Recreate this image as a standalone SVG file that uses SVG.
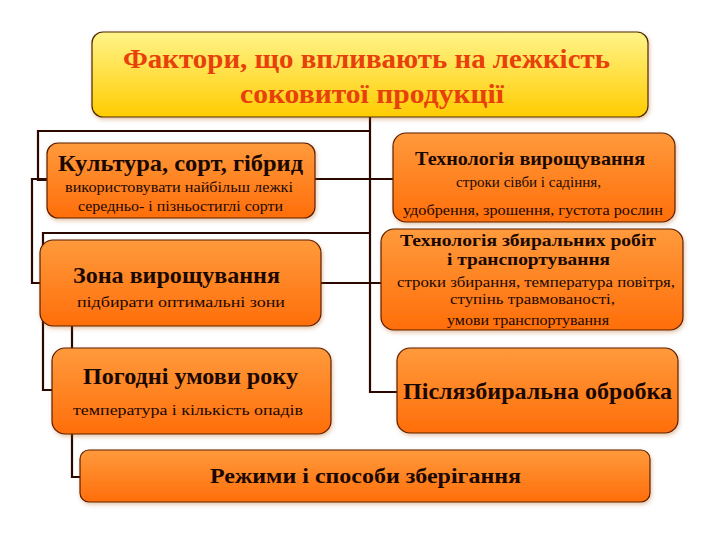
<svg xmlns="http://www.w3.org/2000/svg" width="720" height="540" viewBox="0 0 720 540">
<defs>
<linearGradient id="gy" x1="0" y1="0" x2="0" y2="1">
<stop offset="0" stop-color="#fff48a"/>
<stop offset="1" stop-color="#ffcc00"/>
</linearGradient>
<linearGradient id="go" x1="0" y1="0" x2="0" y2="1">
<stop offset="0" stop-color="#ff9a3c"/>
<stop offset="1" stop-color="#ff6e0a"/>
</linearGradient>
<filter id="sh" x="-5%" y="-10%" width="110%" height="125%">
<feDropShadow dx="1" dy="2" stdDeviation="2" flood-color="#b05000" flood-opacity="0.35"/>
</filter>
</defs>
<style>
.box{fill:url(#go);stroke:#5a1e00;stroke-width:1.2;filter:url(#sh)}
.title{fill:url(#gy);stroke:#4a2a00;stroke-width:1.2;filter:url(#sh)}
.conn{fill:none;stroke:#2a0800;stroke-width:2.2}
text{font-family:"Liberation Serif","DejaVu Serif",serif;text-anchor:middle;fill:#1a0800}
.h{font-weight:bold}
.t{font-weight:bold;fill:#e8400a;font-size:27px}
.s{font-size:15px}
</style>
<rect width="720" height="540" fill="#ffffff"/>
<g id="connectors">
<path class="conn" d="M370,117 V392 H398"/>
<path class="conn" d="M370,131 H38 V180 H48"/>
<path class="conn" d="M315,179 H395"/>
<path class="conn" d="M48,179 H32 V283 H42"/>
<path class="conn" d="M370,233 H43 V390 H53"/>
<path class="conn" d="M320,283 H382"/>
<path class="conn" d="M72,325 V350"/>
<path class="conn" d="M72,434 V477 H82"/>
</g>
<g id="title">
<rect class="title" x="92" y="32" width="556" height="85" rx="11"/>
<text class="t" x="366.5" y="68" textLength="487" lengthAdjust="spacingAndGlyphs">Фактори, що впливають на лежкість</text>
<text class="t" x="372" y="103" textLength="264" lengthAdjust="spacingAndGlyphs">соковитої продукції</text>
</g>
<g id="culture">
<rect class="box" x="47" y="143" width="268" height="75" rx="11"/>
<text class="h" x="180.5" y="171" font-size="24" textLength="245" lengthAdjust="spacingAndGlyphs">Культура, сорт, гібрид</text>
<text class="s" x="179" y="192" textLength="228" lengthAdjust="spacingAndGlyphs">використовувати найбільш лежкі</text>
<text class="s" x="180.5" y="211" textLength="205" lengthAdjust="spacingAndGlyphs">середньо- і пізньостиглі сорти</text>
</g>
<g id="tech-grow">
<rect class="box" x="393" y="133" width="282" height="89" rx="13"/>
<text class="h" x="530" y="165" font-size="19" textLength="230" lengthAdjust="spacingAndGlyphs">Технологія вирощування</text>
<text class="s" x="528.5" y="187" textLength="145" lengthAdjust="spacingAndGlyphs">строки сівби і садіння,</text>
<text class="s" x="533" y="215" textLength="260" lengthAdjust="spacingAndGlyphs">удобрення, зрошення, густота рослин</text>
</g>
<g id="zone">
<rect class="box" x="40" y="240" width="281" height="86" rx="13"/>
<text class="h" x="176.5" y="283" font-size="23" textLength="207" lengthAdjust="spacingAndGlyphs">Зона вирощування</text>
<text class="s" x="181" y="307" font-size="16" textLength="208" lengthAdjust="spacingAndGlyphs">підбирати оптимальні зони</text>
</g>
<g id="tech-harvest">
<rect class="box" x="381" y="229" width="302" height="101" rx="13"/>
<text class="h" x="528" y="246" font-size="17" textLength="256" lengthAdjust="spacingAndGlyphs">Технологія збиральних робіт</text>
<text class="h" x="528.5" y="265" font-size="17" textLength="163" lengthAdjust="spacingAndGlyphs">і транспортування</text>
<text class="s" x="536" y="287" font-size="14" textLength="278" lengthAdjust="spacingAndGlyphs">строки збирання,  температура повітря,</text>
<text class="s" x="532.5" y="304" font-size="14" textLength="165" lengthAdjust="spacingAndGlyphs">ступінь травмованості,</text>
<text class="s" x="528" y="325" textLength="162" lengthAdjust="spacingAndGlyphs">умови транспортування</text>
</g>
<g id="weather">
<rect class="box" x="52" y="348" width="279" height="86" rx="13"/>
<text class="h" x="190.5" y="384" font-size="23" textLength="215" lengthAdjust="spacingAndGlyphs">Погодні умови року</text>
<text class="s" x="188" y="415" font-size="16" textLength="230" lengthAdjust="spacingAndGlyphs">температура і кількість опадів</text>
</g>
<g id="post-harvest">
<rect class="box" x="397" y="348" width="281" height="85" rx="13"/>
<text class="h" x="537.5" y="399" font-size="23" textLength="269" lengthAdjust="spacingAndGlyphs">Післязбиральна обробка</text>
</g>
<g id="storage">
<rect class="box" x="80" y="450" width="570" height="52" rx="9"/>
<text class="h" x="365.5" y="483" font-size="22" textLength="311" lengthAdjust="spacingAndGlyphs">Режими і способи зберігання</text>
</g>
</svg>
